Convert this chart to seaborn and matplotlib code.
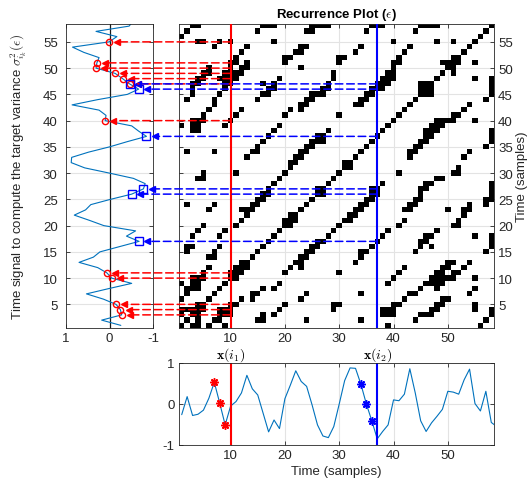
import numpy as np
import matplotlib
matplotlib.use("Agg")
import matplotlib.pyplot as plt
import seaborn as sns
from matplotlib.colors import ListedColormap
from matplotlib.patches import ConnectionPatch

# ---------------- data ----------------
signal = [-0.26, 0.18, -0.28, -0.25, -0.15, 0.14, 0.53, 0.02, -0.51, -0.05,
          0.06, 0.27, 0.70, 0.37, 0.22, -0.23, -0.68, -0.39, -0.60, 0.13,
          0.46, 0.81, 0.55, 0.43, -0.02, -0.51, -0.78, -0.82, -0.55, 0.00,
          0.57, 0.88, 0.87, 0.48, 0.00, -0.41, -0.85, -0.67, -0.51, 0.10,
          0.08, 0.24, 0.86, 0.27, -0.41, -0.67, -0.46, -0.30, -0.13, 0.31,
          0.29, 0.24, 0.59, 0.85, 0.01, -0.17, 0.31, -0.45, -0.55]
n_rp = 58                 # size of the recurrence plot
emb_dim = 3               # embedding dimension
eps = 0.435               # recurrence threshold (max norm)
i1 = 10                   # reference time i1
i2 = 37                   # reference time i2
red_rows = [3, 4, 5, 10, 11, 40, 47, 48, 49, 50, 51, 55]
blue_rows = [17, 26, 27, 37, 46, 47]
red_stars = [7, 8, 9]
blue_stars = [34, 35, 36]
xticks_rp = [10, 20, 30, 40, 50]
yticks_rp = [5, 10, 15, 20, 25, 30, 35, 40, 45, 50, 55]

# ---------------- recurrence matrix from the signal ----------------
sig = np.array(signal)
t_all = np.arange(1, len(sig) + 1)
padded = np.concatenate([sig, np.full(emb_dim, np.nan)])
V = np.array([padded[i:i + emb_dim] for i in range(n_rp)])
D = np.nanmax(np.abs(V[:, None, :] - V[None, :, :]), axis=2)
R = D <= eps

# ---------------- style ----------------
sns.set_theme(style="white")
plt.rcParams["font.family"] = ["Liberation Sans", "DejaVu Sans"]
plt.rcParams["mathtext.fontset"] = "cm"
dark = "#262626"
grid_c = "#e3e3e3"
line_c = "#0072BD"
FS = 9.5
plt.rcParams.update({
    "axes.edgecolor": dark, "axes.linewidth": 0.6,
    "xtick.color": dark, "ytick.color": dark,
    "xtick.labelcolor": dark, "ytick.labelcolor": dark,
    "axes.labelcolor": dark, "text.color": dark,
    "font.size": FS,
})

W, H = 529, 489
fig = plt.figure(figsize=(W / 100, H / 100), dpi=100)


def ax_px(x0, y0, x1, y1):
    return fig.add_axes([x0 / W, 1 - y1 / H, (x1 - x0) / W, (y1 - y0) / H])


axL = ax_px(66, 24.5, 153, 329)
axR = ax_px(179, 24.5, 494, 329)
axB = ax_px(179, 364, 494, 446)

tick_kw = dict(direction="in", length=3, width=0.6, labelsize=FS,
               top=True, bottom=True, left=True, right=True)

# ---------------- recurrence plot ----------------
Rm = np.ma.masked_where(~R, np.ones(R.shape))
axR.imshow(Rm, cmap=ListedColormap(["black"]), origin="lower",
           extent=[0.5, n_rp + 0.5, 0.5, n_rp + 0.5], aspect="auto",
           interpolation="nearest", zorder=2)
axR.set_xlim(0.5, n_rp + 0.5)
axR.set_ylim(0.5, n_rp + 0.5)
axR.set_xticks(xticks_rp)
axR.set_yticks(yticks_rp)
axR.grid(True, color=grid_c, lw=0.8)
axR.set_axisbelow(True)
axR.tick_params(axis="both", labelleft=False, labelright=True, pad=3, **tick_kw)
axR.yaxis.set_label_position("right")
axR.set_ylabel("Time (samples)", labelpad=2, fontsize=FS)
axR.set_title(r"Recurrence Plot ($\epsilon$)", fontweight="bold",
              fontsize=FS, pad=5, color="black")
axR.axvline(i1, color="red", lw=1.5, zorder=4)
axR.axvline(i2, color="blue", lw=1.5, zorder=4)

# ---------------- left panel: vertical time signal ----------------
sns.lineplot(x=sig, y=t_all, sort=False, orient="y", estimator=None,
             ax=axL, color=line_c, lw=0.8)
axL.axvline(0, color="#1a1a1a", lw=0.9, zorder=1)
axL.set_xlim(1, -1)
axL.set_ylim(0.5, n_rp + 0.5)
axL.set_xticks([1, 0, -1])
axL.set_xticklabels(["1", "0", "-1"])
axL.set_yticks(yticks_rp)
axL.grid(True, axis="y", color=grid_c, lw=0.8)
axL.set_axisbelow(True)
axL.tick_params(axis="x", pad=3, **tick_kw)
axL.tick_params(axis="y", pad=6, **tick_kw)
axL.set_ylabel(r"Time signal to compute the target variance $\sigma^2_{i_k}(\epsilon)$",
               labelpad=10, fontsize=FS)

offset = 0.19
for rows, col, mk, ms, ref in [(red_rows, "red", "o", 4.5, i1),
                               (blue_rows, "blue", "s", 5.5, i2)]:
    for r in rows:
        v = sig[r - 1]
        con = ConnectionPatch(xyA=(ref, r), coordsA=axR.transData,
                              xyB=(v - offset, r), coordsB=axL.transData,
                              linestyle=(0, (5, 2.5)), color=col, lw=1.1, zorder=5)
        fig.add_artist(con)
        axL.plot([v - offset], [r], marker="<", color=col, ms=5,
                 ls="none", clip_on=False, zorder=6)
        axL.plot([v], [r], marker=mk, mfc="none", mec=col, ms=ms, mew=1.0,
                 ls="none", zorder=6)

# ---------------- bottom panel: time signal ----------------
sns.lineplot(x=t_all, y=sig, ax=axB, color=line_c, lw=0.8)
axB.set_xlim(0.5, n_rp + 0.5)
axB.set_ylim(-1, 1)
axB.set_xticks(xticks_rp)
axB.set_yticks([-1, 0, 1])
axB.set_yticklabels(["-1", "0", "1"])
axB.grid(True, color=grid_c, lw=0.8)
axB.set_axisbelow(True)
axB.tick_params(axis="both", pad=3, **tick_kw)
axB.set_xlabel("Time (samples)", labelpad=3, fontsize=FS)
axB.set_ylabel("")
axB.axvline(i1, color="red", lw=1.5)
axB.axvline(i2, color="blue", lw=1.5)
for stars, col in [(red_stars, "red"), (blue_stars, "blue")]:
    axB.plot(stars, [sig[s - 1] for s in stars], ls="none", marker=(8, 2, 0),
             color=col, ms=6, mew=1.1, zorder=5)
axB.text(i1, 1.01, r"$\mathbf{x}(i_1)$", ha="center", va="bottom",
         fontsize=10, color="black")
axB.text(i2, 1.01, r"$\mathbf{x}(i_2)$", ha="center", va="bottom",
         fontsize=10, color="black")

fig.savefig("out.png", dpi=100)
